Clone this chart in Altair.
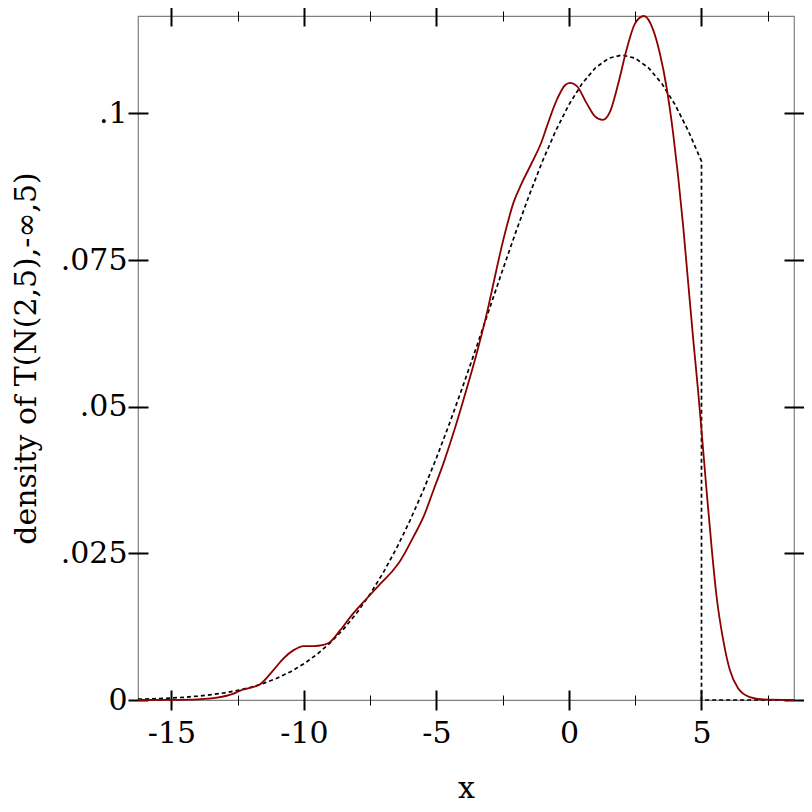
import altair as alt
import pandas as pd

# ---- data ----
dash_x = [-16.26, -15.5, -15, -14.5, -14, -13.5, -13, -12.5, -12, -11.5, -11, -10.5, -10,
          -9.5, -9, -8.5, -8, -7.5, -7, -6.5, -6, -5.5, -5, -4.5, -4, -3.5, -3, -2.5, -2,
          -1.5, -1, -0.5, 0, 0.5, 1, 1.5, 2, 2.5, 3, 3.5, 4, 4.5, 5, 5, 8.49]
dash_y = [0.00014, 0.00024, 0.00034, 0.00047, 0.00066, 0.00090, 0.00122, 0.00164, 0.00218,
          0.00287, 0.00374, 0.00483, 0.00617, 0.00781, 0.00978, 0.01212, 0.01488, 0.01808,
          0.02176, 0.02592, 0.03057, 0.03570, 0.04127, 0.04723, 0.05352, 0.06004, 0.06669,
          0.07334, 0.07984, 0.08606, 0.09184, 0.09703, 0.10150, 0.10511, 0.10777, 0.10940,
          0.10995, 0.10940, 0.10777, 0.10511, 0.10150, 0.09703, 0.09184, 0.0, 0.0]

kde_x = [-16.26, -15.0, -14.0, -13.28, -12.65, -12.4, -12.0, -11.65, -11.15, -10.77, -10.39,
         -10.01, -9.64, -9.26, -9.01, -8.63, -8.13, -7.63, -7.12, -6.62, -6.37, -5.87, -5.49,
         -5.11, -4.74, -4.36, -3.98, -3.48, -3.10, -2.85, -2.60, -2.35, -2.10, -1.78, -1.41,
         -1.03, -0.84, -0.46, -0.15, 0.04, 0.29, 0.67, 0.98, 1.27, 1.55, 1.86, 2.17, 2.49,
         2.83, 3.18, 3.43, 3.68, 3.93, 4.12, 4.31, 4.50, 4.69, 4.88, 5.00, 5.19, 5.38, 5.57,
         5.82, 6.07, 6.38, 6.82, 7.32, 8.49]
kde_y = [0.0, 0.00003, 0.00012, 0.0004, 0.0011, 0.0016, 0.0021, 0.0027, 0.0051, 0.0071, 0.0085,
         0.0092, 0.0092, 0.0094, 0.0099, 0.0119, 0.0148, 0.0173, 0.0198, 0.0222, 0.0237, 0.0278,
         0.0312, 0.0358, 0.0403, 0.0455, 0.0512, 0.0591, 0.0659, 0.0710, 0.0761, 0.0807, 0.0847,
         0.0881, 0.0915, 0.0952, 0.0977, 0.1023, 0.1048, 0.1052, 0.1047, 0.1017, 0.0995, 0.0989,
         0.1003, 0.1051, 0.1108, 0.1153, 0.1166, 0.1142, 0.1102, 0.1045, 0.0966, 0.0892, 0.0807,
         0.0710, 0.0614, 0.0523, 0.0460, 0.0358, 0.0261, 0.0176, 0.0102, 0.0051, 0.0020, 0.0005,
         0.0001, 0.0]

x_major = [-15, -10, -5, 0, 5]
x_minor = [-12.5, -7.5, -2.5, 2.5, 7.5]
y_major = [0, 0.025, 0.05, 0.075, 0.1]
x_domain = [-16.26, 8.49]
y_domain = [0, 0.1166]

x_title = "x"
y_title = "density of T(N(2,5),-∞,5)"

dash_df = pd.DataFrame({"x": dash_x, "y": dash_y})
kde_df = pd.DataFrame({"x": kde_x, "y": kde_y})

FONT = "DejaVu Serif"
FS = 30

xs = alt.Scale(domain=x_domain, nice=False, zero=False)
ys = alt.Scale(domain=y_domain, nice=False, zero=False)


def axis(orient, values, size, width, labels=False, title=None, fmt=None, **kw):
    args = dict(orient=orient, values=values, tickSize=size, offset=-size / 2,
                domain=False, grid=False, tickColor="black", tickWidth=width,
                labels=labels)
    if labels:
        args.update(labelFont=FONT, labelFontSize=FS, labelColor="black")
        if fmt:
            args["labelExpr"] = fmt
    if title is not None:
        args.update(title=title, titleFont=FONT, titleFontSize=FS, titleColor="black",
                    titleFontWeight="normal")
    else:
        args["title"] = None
    args.update(kw)
    return alt.Axis(**args)


yfmt = "datum.value == 0 ? '0' : replace(format(datum.value, '.3~f'), '0.', '.')"
xfmt = "'' + datum.value"

dash_layer = alt.Chart(dash_df).mark_line(
    color="black", strokeWidth=1.7, strokeDash=[4, 3]
).encode(
    x=alt.X("x:Q", scale=xs,
            axis=axis("bottom", x_major, 20, 2, labels=True, title=x_title, fmt=xfmt,
                      labelPadding=8, titlePadding=25)),
    y=alt.Y("y:Q", scale=ys,
            axis=axis("left", y_major, 20, 2, labels=True, title=y_title, fmt=yfmt,
                      labelPadding=1, titlePadding=19)),
    order=alt.Order("idx:Q"),
).transform_window(idx="row_number()")

kde_layer = alt.Chart(kde_df).mark_line(
    color="#8B0000", strokeWidth=1.8, interpolate="monotone"
).encode(
    x=alt.X("x:Q", scale=xs, axis=axis("top", x_major, 20, 2)),
    y=alt.Y("y:Q", scale=ys, axis=axis("right", y_major, 20, 2)),
)

minor_bottom = alt.Chart(kde_df).mark_line(strokeOpacity=0).encode(
    x=alt.X("x:Q", scale=xs, axis=axis("bottom", x_minor, 10, 1)),
    y=alt.Y("y:Q", scale=ys, axis=None),
)
minor_top = alt.Chart(kde_df).mark_line(strokeOpacity=0).encode(
    x=alt.X("x:Q", scale=xs, axis=axis("top", x_minor, 10, 1)),
    y=alt.Y("y:Q", scale=ys, axis=None),
)

chart = alt.layer(dash_layer, kde_layer, minor_bottom, minor_top).resolve_axis(
    x="independent", y="independent"
).properties(
    width=656, height=684,
    autosize=alt.AutoSizeParams(type="none"),
    padding={"left": 130, "top": 8, "right": 10, "bottom": 110},
    background="white",
).configure_view(stroke="#808080", strokeWidth=1.2)

chart.save("out.html", embed_options={"renderer": "svg", "actions": False})
